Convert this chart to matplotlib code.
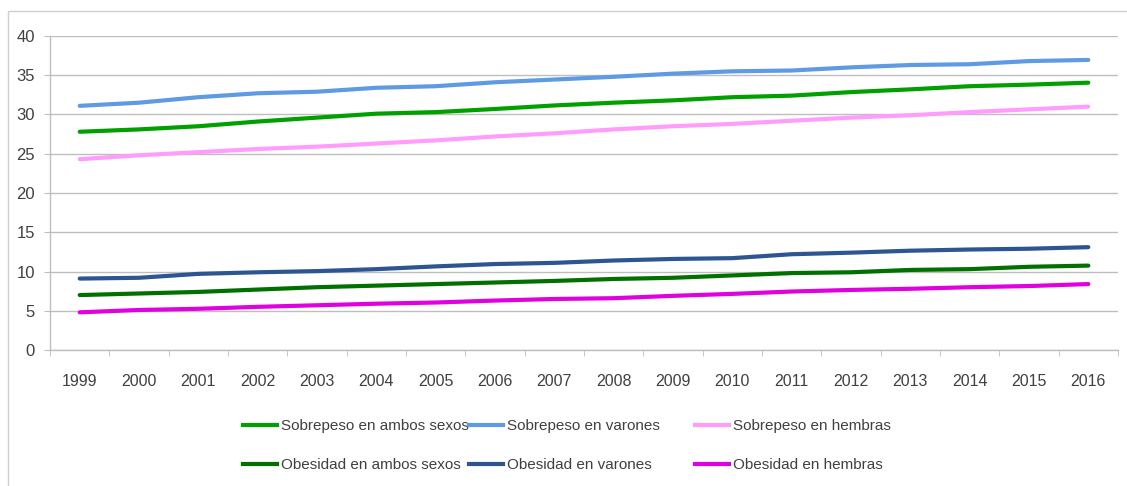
import matplotlib
matplotlib.use("Agg")
import matplotlib.pyplot as plt
from matplotlib.lines import Line2D
from matplotlib.patches import Rectangle

plt.rcParams['font.family'] = ['Liberation Sans', 'DejaVu Sans']

years = [str(y) for y in range(1999, 2017)]

sobrepeso_ambos = [27.8, 28.1, 28.5, 29.1, 29.6, 30.1, 30.3, 30.7, 31.15, 31.5,
                   31.8, 32.2, 32.4, 32.85, 33.2, 33.6, 33.8, 34.05]
sobrepeso_varones = [31.1, 31.5, 32.2, 32.7, 32.9, 33.4, 33.6, 34.1, 34.45, 34.8,
                     35.2, 35.5, 35.6, 36.0, 36.3, 36.4, 36.8, 36.95]
sobrepeso_hembras = [24.3, 24.8, 25.2, 25.6, 25.9, 26.3, 26.7, 27.2, 27.6, 28.1,
                     28.5, 28.8, 29.2, 29.6, 29.9, 30.3, 30.65, 31.0]
obesidad_ambos = [7.0, 7.2, 7.4, 7.7, 8.0, 8.2, 8.4, 8.6, 8.8, 9.05,
                  9.2, 9.5, 9.8, 9.9, 10.2, 10.3, 10.6, 10.75]
obesidad_varones = [9.1, 9.2, 9.7, 9.9, 10.05, 10.3, 10.65, 10.95, 11.1, 11.4,
                    11.6, 11.7, 12.2, 12.4, 12.65, 12.8, 12.9, 13.1]
obesidad_hembras = [4.8, 5.1, 5.25, 5.5, 5.7, 5.9, 6.05, 6.3, 6.5, 6.6,
                    6.9, 7.15, 7.45, 7.65, 7.8, 8.0, 8.15, 8.4]

series = [
    ("Sobrepeso en ambos sexos", sobrepeso_ambos, "#00A000"),
    ("Sobrepeso en varones", sobrepeso_varones, "#5E9BE3"),
    ("Sobrepeso en hembras", sobrepeso_hembras, "#FF9DFF"),
    ("Obesidad en ambos sexos", obesidad_ambos, "#007000"),
    ("Obesidad en varones", obesidad_varones, "#2D5591"),
    ("Obesidad en hembras", obesidad_hembras, "#E000E0"),
]

text_color = "#404040"
grid_color = "#BEBEBE"

fig = plt.figure(figsize=(11.27, 4.86), dpi=100)
ax = fig.add_axes([0.0444, 0.2798, 0.9476, 0.6462])

x = list(range(len(years)))
for name, vals, col in series:
    ax.plot(x, vals, color=col, lw=3, solid_capstyle='round', label=name)

ax.set_xlim(-0.5, len(years) - 0.5)
ax.set_ylim(0, 40)
ax.set_yticks(range(0, 41, 5))
ax.set_xticks(x)
ax.set_xticklabels(years)
ax.set_xticks([i - 0.5 for i in range(len(years) + 1)], minor=True)

ax.grid(axis='y', color=grid_color, lw=1)
ax.set_axisbelow(True)
for side in ['top', 'right']:
    ax.spines[side].set_visible(False)
for side in ['left', 'bottom']:
    ax.spines[side].set_color(grid_color)
    ax.spines[side].set_linewidth(1)

ax.tick_params(axis='x', which='major', length=0, pad=17, labelsize=11.5,
               labelcolor=text_color)
ax.tick_params(axis='x', which='minor', length=4, color=grid_color)
ax.tick_params(axis='y', length=4, color=grid_color, pad=7, labelsize=12,
               labelcolor=text_color)

# one legend per column so the columns sit on an even grid
handles = [Line2D([], [], color=col, lw=3) for _, _, col in series]
names = [name for name, _, _ in series]
col_x = [243, 469, 695]
for c in range(3):
    fig.legend([handles[c], handles[c + 3]], [names[c], names[c + 3]],
               loc='upper left', bbox_to_anchor=(col_x[c] / 1127, 1 - 419 / 486),
               frameon=False, fontsize=11, handlelength=2.2, handletextpad=0.26,
               labelspacing=1.65, borderpad=0, borderaxespad=0,
               labelcolor=text_color)

# thin outer frame around the chart
fig.patches.append(Rectangle((8 / 1127, -0.1), 1.1, 1.1 - 11.5 / 486,
                             transform=fig.transFigure, fill=False,
                             edgecolor='#CFCFCF', lw=1))

fig.savefig("out.png", dpi=100)
